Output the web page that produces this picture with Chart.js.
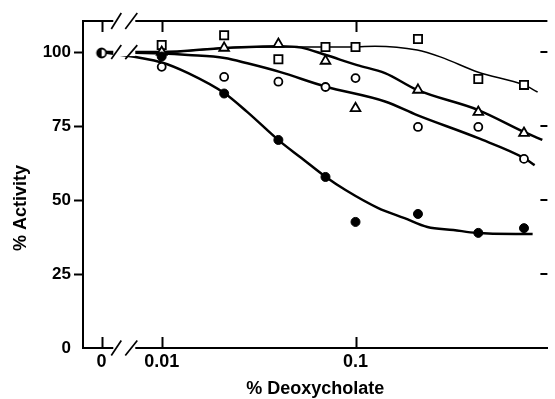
<!DOCTYPE html>
<html><head><meta charset="utf-8">
<script src="https://cdn.jsdelivr.net/npm/chart.js@4/dist/chart.umd.min.js"></script>
<style>html,body{margin:0;padding:0;background:#fff}#wrap{width:555px;height:399px}</style>
</head><body><div id="wrap"><canvas id="c" width="555" height="399"></canvas></div>
<script>
// ---- data ----
const concentrations = [0.01, 0.021, 0.04, 0.07, 0.1, 0.21, 0.43, 0.74];   // % deoxycholate
const filledCircleValues = [98.5, 86, 70.3, 57.8, 42.6, 45.3, 38.9, 40.5];
const openCircleValues   = [95, 91.6, 90, 88.2, 91.2, 74.7, 74.7, 63.9];
const triangleValues     = [100, 101.4, 102.7, 97, 81, 87.2, 79.7, 72.6];
const squareValues       = [102.4, 105.7, 97.6, 101.7, 101.7, 104.4, 90.9, 88.9];
const controlConcentration = [0];
const controlValue = [99.7];

// fitted curves
const filledCurveX = [0, 0.01, 0.0137, 0.0211, 0.0277, 0.0406, 0.0526, 0.0703, 0.0888, 0.131, 0.179, 0.235, 0.32, 0.42, 0.82];
const filledCurveY = [100, 96.5, 92.9, 86.1, 79.7, 69.9, 64.2, 57.8, 53.4, 47.3, 43.9, 40.9, 39.9, 38.9, 38.5];
const openCurveX = [0, 0.01, 0.0137, 0.0211, 0.0277, 0.0406, 0.0703, 0.142, 0.208, 0.43, 0.74, 0.84];
const openCurveY = [100, 99.5, 99.0, 98.0, 96.2, 93.3, 88.3, 83.3, 78.7, 70.9, 64.2, 61.8];
const triangleCurveX = [0, 0.01, 0.0211, 0.0406, 0.0526, 0.0703, 0.102, 0.142, 0.208, 0.43, 0.74, 0.92];
const triangleCurveY = [100, 100, 101.4, 102, 101.5, 99, 95.6, 92.9, 87.2, 80.4, 73, 70.3];
const squareCurveX = [0, 0.01, 0.0211, 0.0406, 0.0703, 0.102, 0.126, 0.208, 0.276, 0.43, 0.74, 0.87];
const squareCurveY = [100, 100, 101.4, 101.7, 101.7, 101.8, 102, 100.7, 98.3, 93.2, 88.9, 86.5];

const xTickValues = [0, 0.01, 0.1];
const xTickLabels = ['0', '0.01', '0.1'];
const yTickValues = [0, 25, 50, 75, 100];

// ---- axis mapping: log scale with a broken-axis slot for 0 ----
const ZERO_POS = -2.31;
const BREAK_POS = -2.193;
function axisX(c) { return c === 0 ? ZERO_POS : Math.log10(c); }
function pts(xs, ys) { return xs.map((c, i) => ({x: axisX(c), y: ys[i]})); }

const FONT = '"Liberation Sans", Arial, Helvetica, sans-serif';

function halfCircle() {
  const c = document.createElement('canvas'); c.width = c.height = 14;
  const g = c.getContext('2d');
  g.beginPath(); g.arc(7, 7, 4.5, 0, 2 * Math.PI); g.fillStyle = '#fff'; g.fill();
  g.beginPath(); g.arc(7, 7, 4.5, Math.PI / 2, 3 * Math.PI / 2); g.closePath(); g.fillStyle = '#000'; g.fill();
  g.beginPath(); g.arc(7, 7, 4.5, 0, 2 * Math.PI); g.lineWidth = 1.8; g.strokeStyle = '#000'; g.stroke();
  return c;
}

const decorations = {
  id: 'decorations',
  afterDraw(chart) {
    const {ctx, chartArea: {left, right, top, bottom}, scales: {x, y}} = chart;
    const line = (x1, y1, x2, y2) => { ctx.beginPath(); ctx.moveTo(x1, y1); ctx.lineTo(x2, y2); ctx.stroke(); };
    ctx.save();
    ctx.strokeStyle = '#000'; ctx.lineWidth = 2;
    line(left - 1, top, right, top);
    xTickValues.forEach(v => {
      const px = Math.round(x.getPixelForValue(axisX(v))) + 0.5;
      line(px, top, px, top + 11);
      line(px, bottom, px, bottom - 11);
    });
    yTickValues.filter(v => v > 0).forEach(v => {
      const py = Math.round(y.getPixelForValue(v));
      line(right - 7, py, right, py);
    });
    const bx = x.getPixelForValue(BREAK_POS);
    [[top, 8], [bottom, 7.5], [y.getPixelForValue(100), 7]].forEach(([by, h]) => {
      ctx.fillStyle = '#fff';
      ctx.fillRect(bx - 11, by - 4, 22, 8);
      ctx.lineWidth = 1.7;
      line(bx - 13, by + h, bx - 3, by - h);
      line(bx + 1, by + h, bx + 13, by - h);
    });
    // y axis title
    ctx.fillStyle = '#000';
    ctx.font = 'bold 18px ' + FONT;
    ctx.translate(21, 208);
    ctx.rotate(-Math.PI / 2);
    ctx.textAlign = 'center'; ctx.textBaseline = 'middle';
    ctx.fillText('% Activity', 0, 0);
    ctx.restore();
  }
};

const markerBase = {showLine: false, borderColor: '#000', borderWidth: 2};
const curveBase = {showLine: true, pointRadius: 0, borderColor: '#000', borderWidth: 2.5, fill: false, cubicInterpolationMode: 'monotone'};

new Chart(document.getElementById('c'), {
  type: 'scatter',
  data: {
    datasets: [
      Object.assign({}, markerBase, {label: 'control', data: pts(controlConcentration, controlValue), pointStyle: halfCircle(), pointRadius: 5}),
      Object.assign({}, markerBase, {label: 'filled', data: pts(concentrations, filledCircleValues), pointStyle: 'circle', pointRadius: 4.5, backgroundColor: '#000', borderWidth: 1}),
      Object.assign({}, markerBase, {label: 'open', data: pts(concentrations, openCircleValues), pointStyle: 'circle', pointRadius: 4, backgroundColor: '#fff', borderWidth: 1.8}),
      Object.assign({}, markerBase, {label: 'triangle', data: pts(concentrations, triangleValues), pointStyle: 'triangle', pointRadius: 5.6, backgroundColor: '#fff', borderWidth: 1.8}),
      Object.assign({}, markerBase, {label: 'square', data: pts(concentrations, squareValues), pointStyle: 'rect', pointRadius: 5.8, backgroundColor: '#fff', borderWidth: 1.8}),
      Object.assign({}, curveBase, {label: 'filled fit', data: pts(filledCurveX, filledCurveY)}),
      Object.assign({}, curveBase, {label: 'open fit', data: pts(openCurveX, openCurveY)}),
      Object.assign({}, curveBase, {label: 'triangle fit', data: pts(triangleCurveX, triangleCurveY)}),
      Object.assign({}, curveBase, {label: 'square fit', data: pts(squareCurveX, squareCurveY), borderWidth: 1.5})
    ]
  },
  options: {
    responsive: false,
    animation: false,
    devicePixelRatio: 1,
    layout: {padding: {top: 21, left: 0, right: 0, bottom: 0}},
    plugins: {legend: {display: false}, tooltip: {enabled: false}},
    scales: {
      x: {
        type: 'linear', min: -2.406, max: -0.01,
        afterBuildTicks: s => { s.ticks = xTickValues.map(v => ({value: axisX(v)})); },
        afterFit: s => { s.height = 51; },
        ticks: {callback: (v, i) => xTickLabels[i], font: {family: FONT, size: 18, weight: 'bold'}, color: '#000', padding: 3, maxRotation: 0, autoSkip: false},
        grid: {drawOnChartArea: false, drawTicks: false},
        border: {color: '#000', width: 2},
        title: {display: true, text: '% Deoxycholate', color: '#000', font: {family: FONT, size: 18, weight: 'bold', lineHeight: 1}, padding: {top: 0, bottom: 1}}
      },
      y: {
        min: 0, max: 110.5,
        afterBuildTicks: s => { s.ticks = yTickValues.map(v => ({value: v})); },
        afterFit: s => { s.width = 83; },
        ticks: {font: {family: FONT, size: 17, weight: 'bold'}, color: '#000', padding: 3},
        grid: {drawOnChartArea: false, drawTicks: true, tickLength: 9, tickWidth: 2, tickColor: c => (c.tick && c.tick.value === 0) ? 'rgba(0,0,0,0)' : '#000'},
        border: {color: '#000', width: 2}
      }
    }
  },
  plugins: [decorations]
});
</script></body></html>
